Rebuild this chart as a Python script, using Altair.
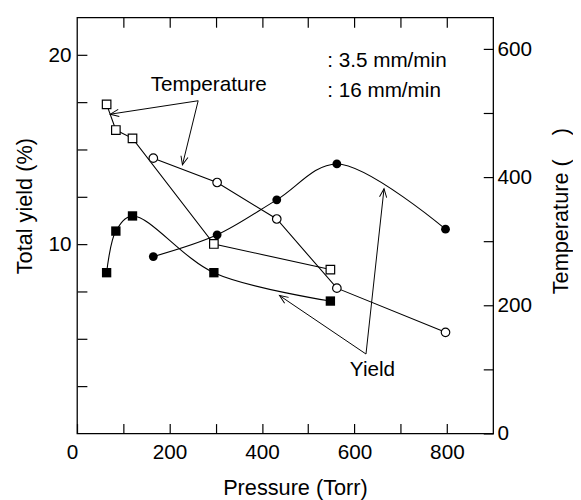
import math
import altair as alt
import pandas as pd

# ---------------- data ----------------
# Temperature (right axis)
temp_sq_P = [64, 84, 120, 296, 548]
temp_sq_T = [514, 474, 461, 296, 256]
temp_ci_P = [165, 303, 432, 562, 797]
temp_ci_T = [430, 392, 335, 227, 158]
# Total yield (left axis)
yld_sq_P = [64, 84, 120, 296, 548]
yld_sq_Y = [8.5, 10.7, 11.5, 8.5, 7.0]
yld_ci_P = [165, 303, 432, 562, 797]
yld_ci_Y = [9.35, 10.5, 12.35, 14.25, 10.8]

# tick values / labels
x_ticks = [0, 100, 200, 300, 400, 500, 600, 700, 800]
x_top_ticks = [100, 200, 300, 400, 500, 600, 700, 800]
y_ticks = [2.5, 5, 7.5, 10, 12.5, 15, 17.5, 20]
t_ticks = [0, 100, 200, 300, 400, 500, 600]

# annotation texts (in data units of pressure / yield)
note_text = [": 3.5 mm/min", ": 16 mm/min", "Temperature", "Yield"]
note_P = [541, 541, 285, 639]
note_Y = [19.36, 17.8, 18.09, 3.06]
note_align = ["left", "left", "center", "center"]

# annotation arrows: start -> tip
arrow_P0 = [262, 262, 625, 625]
arrow_Y0 = [17.59, 17.59, 4.2, 4.2]
arrow_P1 = [72, 228, 438, 664]
arrow_Y1 = [16.88, 14.2, 7.29, 12.94]

W, H = 422, 422
XMAX, YMAX, TMAX = 900, 22, 650
FONT = "Liberation Sans"
LABEL_FS = 21
TITLE_FS = 22

# ---------------- frames ----------------
df_tsq = pd.DataFrame({"P": temp_sq_P, "T": temp_sq_T})
df_tci = pd.DataFrame({"P": temp_ci_P, "T": temp_ci_T})
df_ysq = pd.DataFrame({"P": yld_sq_P, "Y": yld_sq_Y})
df_yci = pd.DataFrame({"P": yld_ci_P, "Y": yld_ci_Y})
df_note = pd.DataFrame({"P": note_P, "Y": note_Y, "txt": note_text, "al": note_align})

px_per_x = W / XMAX
px_per_y = H / YMAX
angles = []
for a, b, c, d in zip(arrow_P0, arrow_Y0, arrow_P1, arrow_Y1):
    dx = (c - a) * px_per_x
    dy = -(d - b) * px_per_y
    angles.append(math.degrees(math.atan2(dy, dx)) % 360)
df_arrow = pd.DataFrame({"P": arrow_P0, "Y": arrow_Y0, "P2": arrow_P1,
                         "Y2": arrow_Y1, "ang": angles})

xscale = alt.Scale(domain=[0, XMAX], nice=False, zero=False)
yscale = alt.Scale(domain=[0, YMAX], nice=False, zero=False)
tscale = alt.Scale(domain=[0, TMAX], nice=False, zero=False)

x_bottom = alt.Axis(
    orient="bottom", values=x_ticks, offset=-10, tickSize=10, tickWidth=1.2,
    tickColor="black", domain=False, grid=False, labelFontSize=LABEL_FS,
    labelFont=FONT, labelColor="black", labelPadding=8,
    labelExpr="datum.value % 200 == 0 ? datum.label : ''",
    labelOffset={"condition": {"test": "datum.value == 0", "value": -11}, "value": 0},
    title="Pressure (Torr)", titleFont=FONT, titleFontSize=TITLE_FS,
    titleFontWeight="normal", titleColor="black",
    titleX=221, titleY=72, titleBaseline="alphabetic", titleAlign="center",
)
y_left = alt.Axis(
    orient="left", values=y_ticks, offset=-10, tickSize=10, tickWidth=1.2,
    tickColor="black", domain=False, grid=False, labelFontSize=LABEL_FS,
    labelFont=FONT, labelColor="black", labelPadding=6,
    labelExpr="(datum.value == 10 || datum.value == 20) ? datum.label : ''",
    title="Total yield (%)", titleFont=FONT, titleFontSize=TITLE_FS,
    titleFontWeight="normal", titleColor="black", titleAngle=270,
    titleX=-56, titleY=191, titleBaseline="alphabetic", titleAlign="center",
)
x_top = alt.Axis(
    orient="top", values=x_top_ticks, offset=-10, tickSize=10, tickWidth=1.2,
    tickColor="black", domain=False, grid=False, labels=False, title=None,
)
t_right = alt.Axis(
    orient="right", values=t_ticks, offset=-10, tickSize=10, tickWidth=1.2,
    tickColor="black", domain=False, grid=False, labelFontSize=LABEL_FS,
    labelFont=FONT, labelColor="black", labelPadding=4,
    labelExpr="datum.value % 200 == 0 ? datum.label : ''",
    title="Temperature (\u00a0\u00a0\u00a0\u00a0)", titleFont=FONT, titleFontSize=TITLE_FS,
    titleFontWeight="normal", titleColor="black", titleAngle=270,
    titleX=85, titleY=196, titleBaseline="alphabetic", titleAlign="center",
)

# ---------------- yield layer ----------------
ysq_line = alt.Chart(df_ysq).mark_line(
    interpolate="catmull-rom", color="black", strokeWidth=1.1
).encode(x=alt.X("P:Q", scale=xscale, axis=x_bottom),
         y=alt.Y("Y:Q", scale=yscale, axis=y_left))
ysq_pts = alt.Chart(df_ysq).mark_point(
    shape="square", filled=True, color="black", size=90, opacity=1
).encode(x="P:Q", y="Y:Q")
yci_line = alt.Chart(df_yci).mark_line(
    interpolate="catmull-rom", color="black", strokeWidth=1.1
).encode(x="P:Q", y="Y:Q")
yci_pts = alt.Chart(df_yci).mark_point(
    shape="circle", filled=True, color="black", size=80, opacity=1
).encode(x="P:Q", y="Y:Q")

notes_left = alt.Chart(df_note[df_note.al == "left"]).mark_text(
    align="left", baseline="alphabetic", font=FONT, fontSize=LABEL_FS, color="black"
).encode(x="P:Q", y="Y:Q", text="txt:N")
notes_center = alt.Chart(df_note[df_note.al == "center"]).mark_text(
    align="center", baseline="alphabetic", font=FONT, fontSize=LABEL_FS, color="black"
).encode(x="P:Q", y="Y:Q", text="txt:N")

arrow_lines = alt.Chart(df_arrow).mark_rule(color="black", strokeWidth=1).encode(
    x="P:Q", y="Y:Q", x2="P2:Q", y2="Y2:Q")
arrow_heads = alt.Chart(df_arrow).mark_point(
    shape="M -1 -0.42 L 0 0 L -1 0.42", filled=False, color="black",
    strokeWidth=1, size=300, opacity=1
).encode(x="P2:Q", y="Y2:Q", angle=alt.Angle("ang:Q", scale=None))

yield_layer = alt.layer(ysq_line, yci_line, ysq_pts, yci_pts, arrow_lines,
                        arrow_heads, notes_left, notes_center)

# ---------------- temperature layer ----------------
tsq_line = alt.Chart(df_tsq).mark_line(color="black", strokeWidth=1.1).encode(
    x=alt.X("P:Q", scale=xscale, axis=x_top),
    y=alt.Y("T:Q", scale=tscale, axis=t_right))
tci_line = alt.Chart(df_tci).mark_line(color="black", strokeWidth=1.1).encode(
    x="P:Q", y="T:Q")
tsq_pts = alt.Chart(df_tsq).mark_point(
    shape="square", filled=True, fill="white", stroke="black", strokeWidth=1.2,
    size=75, opacity=1
).encode(x="P:Q", y="T:Q")
tci_pts = alt.Chart(df_tci).mark_point(
    shape="circle", filled=True, fill="white", stroke="black", strokeWidth=1.2,
    size=75, opacity=1
).encode(x="P:Q", y="T:Q")

temp_layer = alt.layer(tsq_line, tci_line, tsq_pts, tci_pts)

chart = alt.layer(yield_layer, temp_layer).resolve_scale(
    y="independent"
).resolve_axis(x="independent", y="independent").properties(
    width=W, height=H,
    autosize=alt.AutoSizeParams(type="none"),
    padding={"left": 70, "top": 6, "right": 81, "bottom": 64},
    background="white",
).configure_view(stroke="black", strokeWidth=1.3)

chart.save("out.html", embed_options={"renderer": "svg", "actions": False})
